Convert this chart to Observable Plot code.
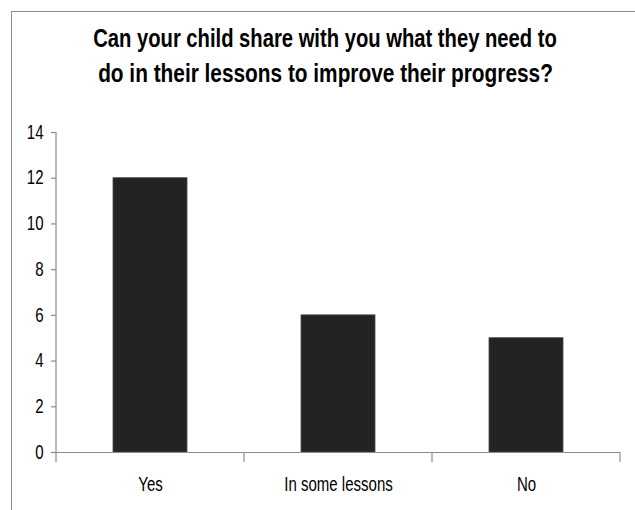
<!DOCTYPE html>
<html>
<head>
<meta charset="utf-8">
<script src="https://cdn.jsdelivr.net/npm/d3@7"></script>
<script src="https://cdn.jsdelivr.net/npm/@observablehq/plot@0.6"></script>
<style>
  html, body { margin: 0; padding: 0; background: #fff; }
  #wrap { position: relative; width: 635px; height: 510px; overflow: hidden; }
  #frame { position: absolute; left: 11px; top: 11px; width: 700px; height: 600px;
           border-top: 1.5px solid #8c8c8c; border-left: 1.5px solid #8c8c8c; }
  #title { position: absolute; left: 0; top: 0; overflow: visible; }
  #title text { font-family: 'Liberation Sans', Arial, sans-serif; font-weight: bold; font-size: 25px; fill: #000; }
  #chart { position: absolute; left: 0; top: 0; }
</style>
</head>
<body>
<div id="wrap">
  <div id="frame"></div>
  <div id="chart"></div>
  <svg id="title" width="635" height="100"></svg>
</div>
<script>
const titleLines = ["Can your child share with you what they need to", "do in their lessons to improve their progress?"];
const categories = ["Yes", "In some lessons", "No"];
const counts = [12, 6, 5];
const yTicks = [0, 2, 4, 6, 8, 10, 12, 14];

const data = categories.map((c, i) => ({category: c, count: counts[i]}));
const labelFont = "'Liberation Sans', Arial, sans-serif";

// title (narrow bold look via horizontal scaling)
const tsvg = d3.select("#title");
const titleSpec = [{y: 47, w: 464, cx: 325}, {y: 82, w: 455, cx: 325.5}];
titleLines.forEach((line, i) => {
  const t = tsvg.append("text").attr("text-anchor", "middle").text(line);
  const len = t.node().getComputedTextLength();
  const s = titleSpec[i].w / len;
  t.attr("transform", `translate(${titleSpec[i].cx},${titleSpec[i].y}) scale(${s},1)`);
});

const chart = Plot.plot({
  width: 635,
  height: 510,
  marginLeft: 56,
  marginRight: 15,
  marginTop: 132,
  marginBottom: 58,
  style: {fontFamily: labelFont, fontSize: "19.5px", color: "#000", background: "transparent", overflow: "visible"},
  x: {domain: categories, padding: 0, label: null},
  y: {domain: [0, 14], label: null},
  marks: [
    Plot.barY(data, {x: "category", y: "count", fill: "#232323", stroke: "#4a4a4a", strokeWidth: 0.8, insetLeft: 57, insetRight: 57}),
    Plot.ruleY([0], {stroke: "#8c8c8c", strokeWidth: 1.2}),
    Plot.axisY({ticks: yTicks, tickSize: 5, tickPadding: 8, stroke: "#8c8c8c", strokeWidth: 1.2, label: null}),
    Plot.axisX({tickSize: 0, tickPadding: 25, label: null})
  ]
});

// y-axis line and band-boundary ticks, positioned from the chart's own scales
const xs = chart.scale("x");
const ys = chart.scale("y");
const svg = d3.select(chart);
const x0 = xs.range[0];
svg.append("line")
  .attr("x1", x0).attr("x2", x0)
  .attr("y1", ys.apply(0)).attr("y2", ys.apply(14))
  .attr("stroke", "#8c8c8c").attr("stroke-width", 1.2);
const bounds = d3.range(categories.length + 1).map(i => xs.range[0] + i * xs.step);
svg.append("g").selectAll("line").data(bounds).join("line")
  .attr("x1", d => d).attr("x2", d => d)
  .attr("y1", ys.apply(0)).attr("y2", ys.apply(0) + 10)
  .attr("stroke", "#8c8c8c").attr("stroke-width", 1.2);

document.getElementById("chart").appendChild(chart);

// larger, condensed tick labels (narrow face look)
svg.selectAll("text").each(function() {
  this.style.fontSize = "19.5px";
  this.style.fontFamily = labelFont;
  this.style.fill = "#000";
  const len = this.getComputedTextLength();
  this.setAttribute("textLength", (len * 0.77).toFixed(2));
  this.setAttribute("lengthAdjust", "spacingAndGlyphs");
});
</script>
</body>
</html>
